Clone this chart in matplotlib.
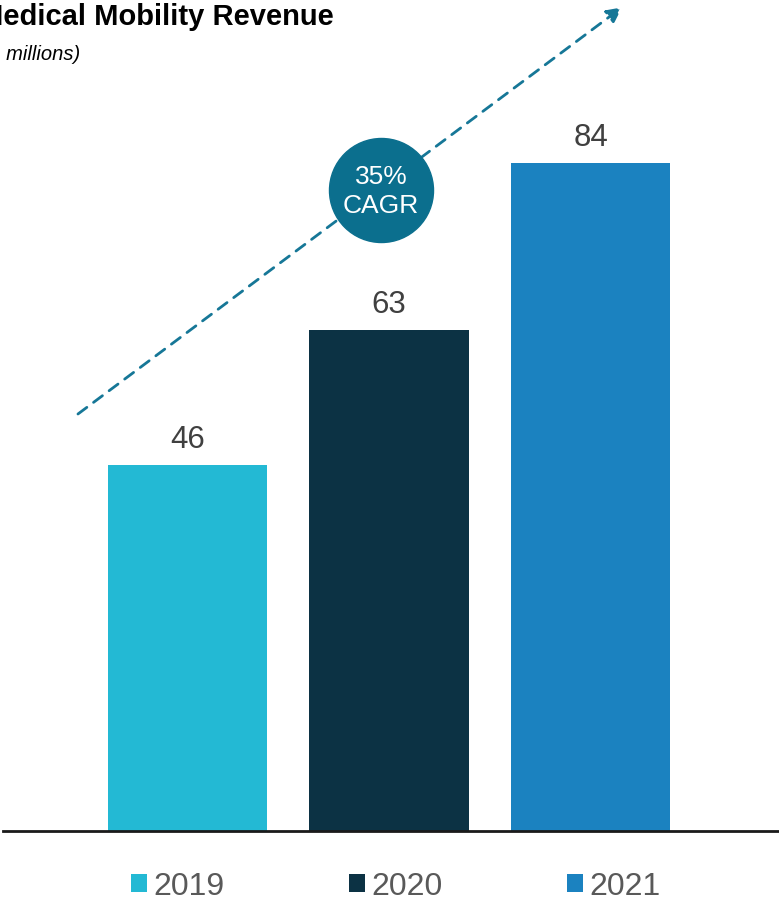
import matplotlib
matplotlib.use("Agg")
import matplotlib.pyplot as plt

plt.rcParams['font.family'] = ['Liberation Sans', 'DejaVu Sans']

# Data
years = ["2019", "2020", "2021"]
revenue = [46, 63, 84]
colors = ["#23b9d4", "#0c3244", "#1b82c0"]
cagr_label = "35%\nCAGR"

fig = plt.figure(figsize=(7.79, 9.04), dpi=100)
ax = fig.add_axes([3 / 779, 72 / 904, 776 / 779, 832 / 904])

x = list(range(len(years)))
bars = ax.bar(x, revenue, width=0.79, color=colors, label=years, zorder=2)

# value labels
for xi, v in zip(x, revenue):
    ax.annotate(str(v), xy=(xi, v), xytext=(0, 13), textcoords="offset points",
                ha="center", va="baseline", fontsize=22.5, color="#404040")

ax.set_xlim(-0.916, 2.935)
ax.set_ylim(0, 104.65)
for s in ["top", "right", "left"]:
    ax.spines[s].set_visible(False)
ax.spines["bottom"].set_linewidth(2)
ax.spines["bottom"].set_color("#1a1a1a")
ax.set_xticks([])
ax.set_yticks([])
ax.patch.set_alpha(0)

# growth arrow
ax.annotate("", xy=(2.156, 103.6), xytext=(-0.544, 52.45),
            arrowprops=dict(arrowstyle="-|>,head_length=0.9,head_width=0.45",
                            color="#167797", lw=2, linestyle=(0, (4, 3)),
                            shrinkA=0, shrinkB=0), zorder=3)

# CAGR bubble
ax.scatter([0.96], [80.6], s=5610, color="#0b6f8e", zorder=4, clip_on=False)
ax.text(0.96, 80.6, cagr_label, ha="center", va="center", fontsize=19,
        color="white", zorder=5, linespacing=1.25)

# titles (cut off at left edge like the source)
fig.text(334 / 779, 1 - 25 / 904, "Medical Mobility Revenue", ha="right",
         va="baseline", fontsize=21, fontweight="bold", color="black")
fig.text(80 / 779, 1 - 60 / 904, "(in millions)", ha="right", va="baseline",
         fontsize=14.5, style="italic", color="black")

# legend
fig.legend(handles=bars.patches, labels=years, loc="center",
           bbox_to_anchor=(0.508, 1 - 887 / 904), ncol=3, frameon=False,
           fontsize=23, handlelength=0.5, handleheight=0.5,
           handletextpad=0.2, columnspacing=3.9, labelcolor="#595959")

fig.savefig("out.png", dpi=100)
